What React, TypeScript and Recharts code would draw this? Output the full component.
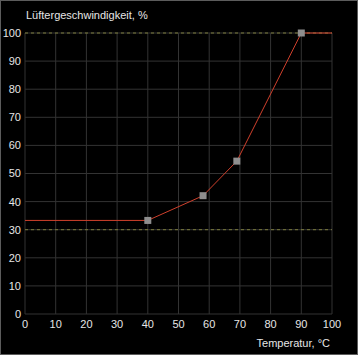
import { ComposedChart, Line, XAxis, YAxis, CartesianGrid, ReferenceLine } from "recharts"

// fan curve: temperature (°C) -> fan speed (%)
const temps = [0, 40, 58, 69, 90, 100]
const speeds = [33.3, 33.3, 42.1, 54.4, 100, 100]
const isControl = [false, true, true, true, true, false]

const xTicks = [0, 10, 20, 30, 40, 50, 60, 70, 80, 90, 100]
const yTicks = [0, 10, 20, 30, 40, 50, 60, 70, 80, 90, 100]

const minLimit = 30
const maxLimit = 100

const yTitle = "Lüftergeschwindigkeit, %"
const xTitle = "Temperatur, °C"

const data = temps.map((t, i) => ({ t, s: speeds[i], ctrl: isControl[i] }))

const font = "'Liberation Sans', Arial, sans-serif"
const tickStyle = { fontSize: 11, fill: "#e6e6e6", fontFamily: font }

function ControlDot(props: any) {
  const { cx, cy, index } = props
  if (!isControl[index]) return <g key={index} />
  return <rect key={index} x={cx - 3.5} y={cy - 3.5} width={7} height={7} fill="#8e8e8e" />
}

export default function App() {
  return (
    <div style={{ position: "absolute", left: 0, top: 0, width: 358, height: 355, background: "#000" }}>
      <ComposedChart width={358} height={355} data={data} margin={{ top: 33, right: 26, left: 0, bottom: 0 }}>
        <CartesianGrid stroke="#333" />
        <XAxis
          dataKey="t"
          type="number"
          domain={[0, 100]}
          ticks={xTicks}
          height={41}
          axisLine={false}
          tickLine={false}
          tickSize={0}
          tickMargin={6}
          tick={tickStyle}
          interval={0}
        />
        <YAxis
          type="number"
          domain={[0, 100]}
          ticks={yTicks}
          width={25}
          axisLine={false}
          tickLine={false}
          tickSize={0}
          tickMargin={4}
          tick={tickStyle}
          interval={0}
        />
        <ReferenceLine y={maxLimit} stroke="#7c7c3c" strokeDasharray="3 3" />
        <ReferenceLine y={minLimit} stroke="#7c7c3c" strokeDasharray="3 3" />
        <Line
          type="linear"
          dataKey="s"
          stroke="#d0402c"
          strokeWidth={1}
          dot={ControlDot}
          activeDot={false}
          isAnimationActive={false}
        />
      </ComposedChart>
      <div style={{ position: "absolute", left: 26, top: 9, fontSize: 11, fontFamily: font, color: "#e6e6e6", whiteSpace: "nowrap" }}>
        {yTitle}
      </div>
      <div style={{ position: "absolute", right: 28, top: 337, fontSize: 11, fontFamily: font, color: "#e6e6e6", whiteSpace: "nowrap" }}>
        {xTitle}
      </div>
      <div style={{ position: "absolute", inset: 0, border: "1px solid #5c5c5c", pointerEvents: "none" }} />
    </div>
  )
}
